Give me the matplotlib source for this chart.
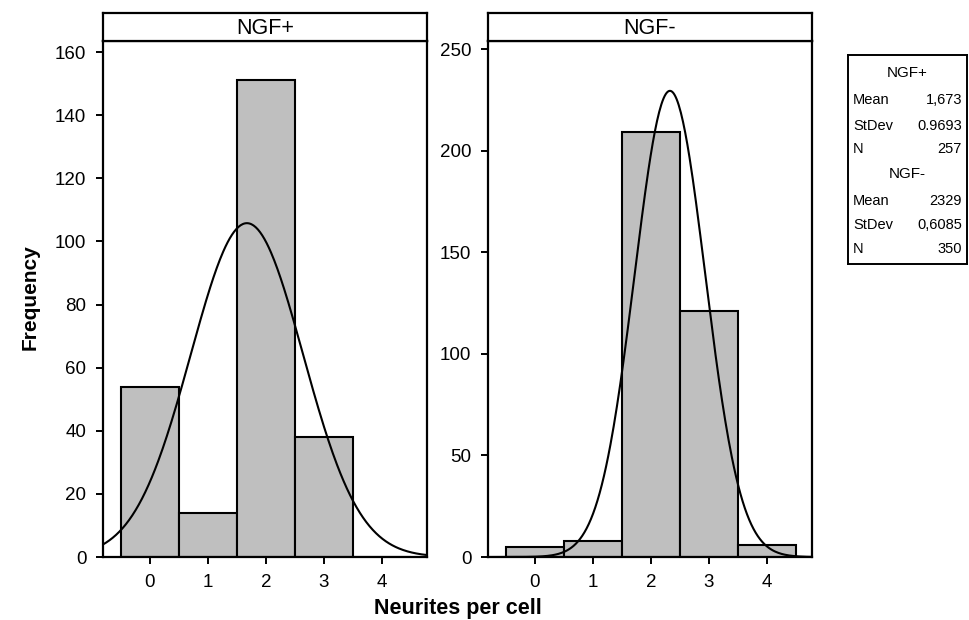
import numpy as np
import matplotlib.pyplot as plt

plt.rcParams['font.family'] = ['Liberation Sans', 'DejaVu Sans']

# datos
neuritas = [0, 1, 2, 3, 4]
frec_ngf_pos = [54, 14, 151, 38, 0]
frec_ngf_neg = [5, 8, 209, 121, 6]

# estadisticas de la leyenda
media = [1.673, 2.329]
desv = [0.9693, 0.6085]
n_celulas = [257, 350]
texto_media = ['1,673', '2329']
texto_desv = ['0.9693', '0,6085']
titulos = ['NGF+', 'NGF-']

fig = plt.figure(figsize=(9.7, 6.2), dpi=100)

paneles = [
    (0.1062, frec_ngf_pos, 163.5, [0, 20, 40, 60, 80, 100, 120, 140, 160]),
    (0.5031, frec_ngf_neg, 254, [0, 50, 100, 150, 200, 250]),
]

for i, (x0, frec, ytop, yticks) in enumerate(paneles):
    ax = fig.add_axes([x0, 0.1016, 0.334, 0.8323])
    ax.bar(neuritas, frec, width=1.0, color='#bfbfbf', edgecolor='black', linewidth=1.5)

    # curva normal ajustada
    xs = np.linspace(-0.81, 4.78, 300)
    ys = n_celulas[i] / (desv[i] * np.sqrt(2 * np.pi)) * np.exp(-0.5 * ((xs - media[i]) / desv[i]) ** 2)
    ax.plot(xs, ys, color='black', linewidth=1.5)

    ax.set_xlim(-0.81, 4.78)
    ax.set_ylim(0, ytop)
    ax.set_xticks(neuritas)
    ax.set_yticks(yticks)
    ax.tick_params(direction='out', length=5, width=1.4, labelsize=13.5, pad=7)
    for s in ax.spines.values():
        s.set_linewidth(1.6)

    # cabecera con el titulo
    cab = fig.add_axes([x0, 0.9339, 0.334, 0.045])
    cab.set_xticks([])
    cab.set_yticks([])
    for s in cab.spines.values():
        s.set_linewidth(1.6)
    cab.text(0.5, 0.45, titulos[i], ha='center', va='center', fontsize=15.5, transform=cab.transAxes)

fig.text(0.031, 0.52, 'Frequency', rotation=90, ha='center', va='center', fontsize=15, fontweight='bold')
fig.text(0.472, 0.019, 'Neurites per cell', ha='center', va='center', fontsize=15.5, fontweight='bold')

# caja de leyenda
ley = fig.add_axes([848 / 970, 1 - 264 / 620, 119 / 970, 209 / 620])
ley.set_xticks([])
ley.set_yticks([])
ley.set_xlim(0, 119)
ley.set_ylim(264, 55)
for s in ley.spines.values():
    s.set_linewidth(1.4)

filas_y = [73, 100, 126, 149, 174, 201, 225, 249]
for j in range(2):
    base = j * 4
    ley.text(59, filas_y[base], titulos[j], ha='center', va='center', fontsize=11)
    ley.text(5, filas_y[base + 1], 'Mean', ha='left', va='center', fontsize=10.5)
    ley.text(114, filas_y[base + 1], texto_media[j], ha='right', va='center', fontsize=10.5)
    ley.text(5, filas_y[base + 2], 'StDev', ha='left', va='center', fontsize=10.5)
    ley.text(114, filas_y[base + 2], texto_desv[j], ha='right', va='center', fontsize=10.5)
    ley.text(5, filas_y[base + 3], 'N', ha='left', va='center', fontsize=10.5)
    ley.text(114, filas_y[base + 3], str(n_celulas[j]), ha='right', va='center', fontsize=10.5)

plt.savefig('out.png', dpi=100)
